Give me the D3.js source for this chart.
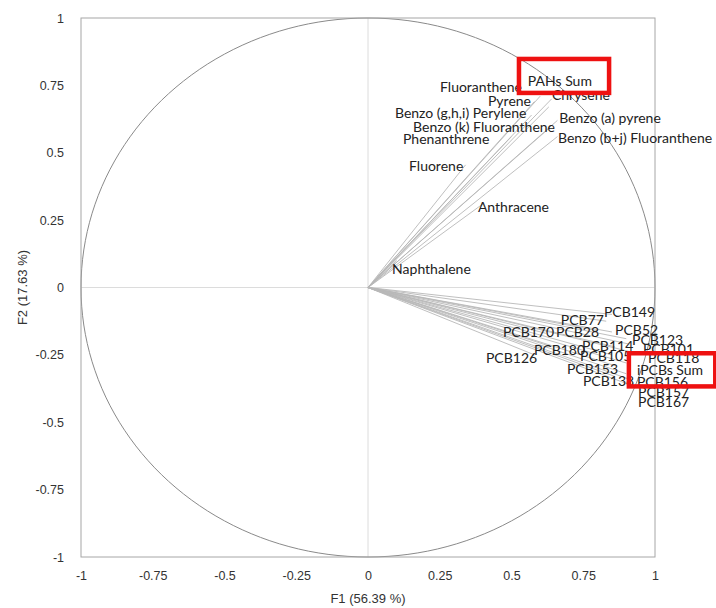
<!DOCTYPE html>
<html><head><meta charset="utf-8">
<script src="https://cdn.jsdelivr.net/npm/d3@7"></script>
<style>body{margin:0;background:#fff}</style>
</head><body>
<svg id="c" width="716" height="608"></svg>
<script>
// ---- data ----
const variables = ["Naphthalene","Fluorene","Anthracene","Phenanthrene","Benzo (k) Fluoranthene","Benzo (g,h,i) Perylene","Pyrene","Fluoranthene","Chrysene","PAHs Sum","Benzo (a) pyrene","Benzo (b+j) Fluoranthene",
  "PCB149","PCB77","PCB52","PCB28","PCB170","PCB123","PCB114","PCB180","PCB101","PCB105","PCB126","PCB118","iPCBs Sum","PCB153","PCB138","PCB156","PCB157","PCB167"];
const f1 = [0.10,0.34,0.40,0.50,0.63,0.57,0.58,0.60,0.64,0.63,0.66,0.66,
  0.85,0.83,0.85,0.80,0.62,0.90,0.86,0.64,0.91,0.85,0.58,0.92,0.90,0.86,0.86,0.90,0.91,0.91];
const f2 = [0.10,0.455,0.31,0.56,0.59,0.64,0.69,0.71,0.70,0.67,0.62,0.56,
  -0.10,-0.125,-0.165,-0.16,-0.17,-0.19,-0.22,-0.22,-0.21,-0.25,-0.25,-0.24,-0.28,-0.29,-0.33,-0.32,-0.34,-0.36];
// label anchor (start of text, vertical middle) in factor units
const labelF1 = [0.084,0.143,0.383,0.122,0.157,0.094,0.418,0.251,0.641,0.557,0.666,0.662,
  0.822,0.672,0.861,0.655,0.470,0.920,0.746,0.578,0.958,0.739,0.411,0.976,0.937,0.693,0.749,0.937,0.941,0.941];
const labelF2 = [0.067,0.452,0.300,0.552,0.596,0.648,0.693,0.744,0.715,0.767,0.630,0.556,
  -0.093,-0.122,-0.159,-0.167,-0.167,-0.196,-0.219,-0.233,-0.230,-0.256,-0.263,-0.263,-0.307,-0.304,-0.348,-0.352,-0.389,-0.426];
const ticks = [-1,-0.75,-0.5,-0.25,0,0.25,0.5,0.75,1];
const tickLabels = ["-1","-0.75","-0.5","-0.25","0","0.25","0.5","0.75","1"];
const xTitle = "F1 (56.39 %)";
const yTitle = "F2 (17.63 %)";
// highlighted labels: [f1 min, f1 max, f2 max, f2 min]
const highlightNames = ["PAHs Sum","iPCBs Sum"];
const highlightBoxes = [[0.526,0.840,0.848,0.722],[0.909,1.210,-0.244,-0.367]];

// ---- chart ----
const svg = d3.select("#c");
const x = d3.scaleLinear().domain([-1,1]).range([81,655]);
const y = d3.scaleLinear().domain([-1,1]).range([557,18]);

// zero lines
svg.append("line").attr("x1",x(-1)).attr("x2",x(1)).attr("y1",y(0)).attr("y2",y(0)).attr("stroke","#dcdcdc").attr("stroke-width",1);
svg.append("line").attr("x1",x(0)).attr("x2",x(0)).attr("y1",y(-1)).attr("y2",y(1)).attr("stroke","#dcdcdc").attr("stroke-width",1);

// unit circle
const circ = d3.range(0,361,2).map(a=>[Math.cos(a*Math.PI/180),Math.sin(a*Math.PI/180)]);
svg.append("path").attr("d",d3.line().x(d=>x(d[0])).y(d=>y(d[1]))(circ))
  .attr("fill","none").attr("stroke","#8a8a8a").attr("stroke-width",1);

// frame
svg.append("rect").attr("x",x(-1)).attr("y",y(1)).attr("width",x(1)-x(-1)).attr("height",y(-1)-y(1))
  .attr("fill","none").attr("stroke","#a6a6a6").attr("stroke-width",1);

// axes
const xa = svg.append("g").attr("transform",`translate(0,${y(-1)})`)
  .call(d3.axisBottom(x).tickValues(ticks).tickFormat((d,i)=>tickLabels[i]).tickSize(0).tickPadding(14));
const ya = svg.append("g").attr("transform",`translate(${x(-1)},0)`)
  .call(d3.axisLeft(y).tickValues(ticks).tickFormat((d,i)=>tickLabels[i]).tickSize(0).tickPadding(17));
[xa,ya].forEach(g=>{g.select(".domain").remove();g.selectAll("text").attr("font-family","Liberation Sans, Arial, sans-serif").attr("font-size",12.5).attr("fill","#333");});

svg.append("text").attr("x",x(0)).attr("y",603).attr("text-anchor","middle")
  .attr("font-family","Liberation Sans, Arial, sans-serif").attr("font-size",13).attr("fill","#333").text(xTitle);
svg.append("text").attr("transform",`translate(27,${y(0)}) rotate(-90)`).attr("text-anchor","middle")
  .attr("font-family","Liberation Sans, Arial, sans-serif").attr("font-size",13).attr("fill","#333").text(yTitle);

// vectors
const data = variables.map((v,i)=>({name:v,f1:f1[i],f2:f2[i],lx:labelF1[i],ly:labelF2[i]}));
svg.append("g").selectAll("line").data(data).join("line")
  .attr("x1",x(0)).attr("y1",y(0)).attr("x2",d=>x(d.f1)).attr("y2",d=>y(d.f2))
  .attr("stroke","#b8b8b8").attr("stroke-width",0.9);

// labels
svg.append("g").selectAll("text").data(data).join("text")
  .attr("x",d=>x(d.lx)).attr("y",d=>y(d.ly)).attr("dy","0.35em")
  .attr("font-family","Lato, 'Open Sans', sans-serif").attr("font-size",14).attr("fill","#222")
  .text(d=>d.name);

// highlight boxes
svg.append("g").selectAll("rect").data(highlightBoxes).join("rect")
  .attr("x",d=>x(d[0])).attr("y",d=>y(d[2])).attr("width",d=>x(d[1])-x(d[0])).attr("height",d=>y(d[3])-y(d[2]))
  .attr("fill","none").attr("stroke","#ee1111").attr("stroke-width",4.5);
</script>
</body></html>
